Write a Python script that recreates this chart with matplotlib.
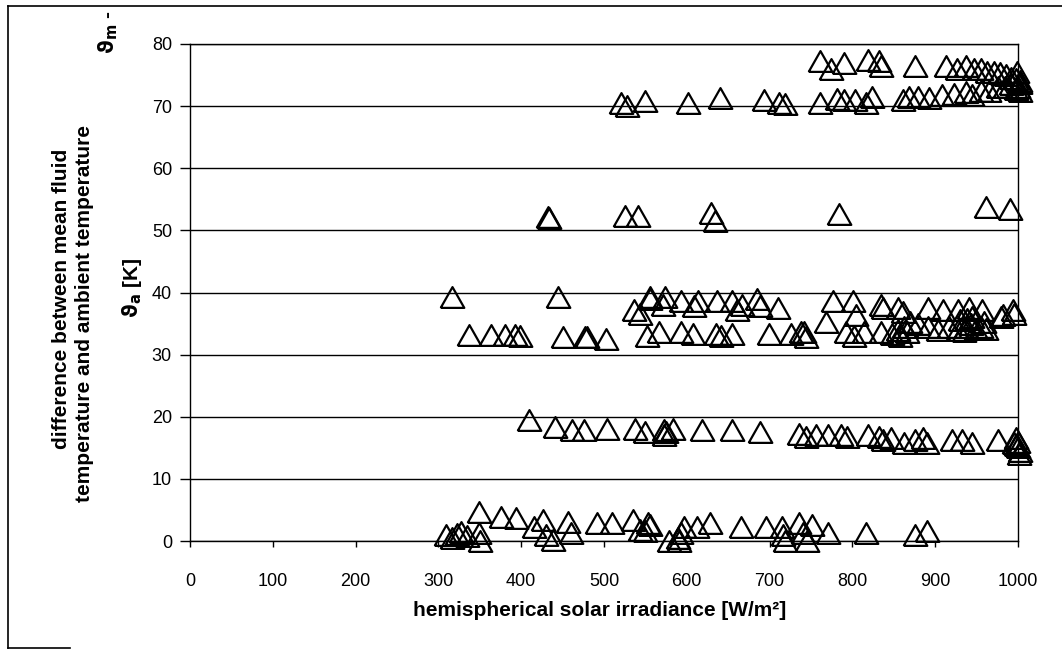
import matplotlib
matplotlib.use("Agg")
import numpy as np
import matplotlib.pyplot as plt
from matplotlib.lines import Line2D

plt.rcParams['font.family'] = ['Liberation Sans', 'DejaVu Sans']
plt.rcParams['mathtext.fontset'] = 'dejavusans'

# measured points, grouped by the temperature level they sit at
# level ~0 K
irr_0 = [309, 317, 322, 327, 334, 349, 349, 350, 376, 394, 416, 426, 430, 438, 456, 460,
         492, 510, 535, 543, 549, 553, 555, 579, 589, 591, 593, 597, 612, 628, 666, 696,
         715, 716, 718, 736, 740, 745, 751, 770, 817, 875, 890]
dt_0 = [1.0, 0.5, 1.2, 1.5, 0.8, 4.7, 1.3, 0.0, 3.9, 3.7, 2.3, 3.4, 1.0, 0.2, 3.0, 1.3,
        2.9, 2.9, 3.4, 1.8, 1.6, 2.9, 2.5, 0.0, 0.5, 0.0, 1.3, 2.3, 2.3, 2.9, 2.3, 2.3,
        2.3, 0.9, 0.0, 2.9, 1.3, 0.0, 2.6, 1.3, 1.3, 1.0, 1.6]

# level ~17 K
irr_17 = [409, 441, 461, 476, 504, 537, 550, 572, 572, 575, 583, 618, 655, 688, 736, 744,
          756, 771, 786, 794, 819, 832, 837, 847, 862, 875, 885, 890, 920, 932, 945, 976,
          995, 997, 998, 1000, 1000, 1001, 1003]
dt_17 = [19.5, 18.3, 17.8, 17.8, 18.0, 18.0, 17.5, 17.8, 17.0, 17.5, 18.0, 17.8, 17.8, 17.5, 17.3, 16.8,
         17.0, 17.0, 17.0, 16.8, 17.0, 16.8, 16.3, 16.5, 15.8, 16.3, 16.5, 15.8, 16.2, 16.3, 15.8, 16.3,
         15.8, 15.5, 16.5, 15.2, 16.0, 14.0, 14.5]

# level ~33 K
irr_33 = [337, 363, 381, 393, 399, 450, 477, 480, 503, 552, 566, 593, 607, 635, 641, 655,
          699, 726, 738, 742, 744, 792, 802, 814, 834, 848, 855, 858, 862, 866, 870, 879,
          891, 903, 917, 927, 930, 935, 937, 943, 945, 949, 955, 961, 979, 995]
dt_33 = [33.2, 33.2, 33.2, 33.2, 33.0, 32.8, 32.8, 32.8, 32.5, 33.0, 33.6, 33.6, 33.3, 33.3, 33.0, 33.3,
         33.3, 33.3, 33.6, 33.6, 32.8, 33.6, 33.0, 33.6, 33.6, 33.3, 34.0, 33.0, 34.5, 33.6, 35.3, 35.0,
         34.5, 34.0, 34.5, 34.0, 35.5, 33.8, 34.5, 35.0, 36.0, 34.2, 34.5, 34.2, 36.0, 36.5]

# level ~38 K
irr_38 = [316, 445, 536, 544, 555, 556, 571, 574, 593, 609, 613, 637, 655, 661, 667, 685,
          689, 710, 768, 776, 801, 804, 834, 837, 855, 861, 891, 909, 927, 939, 941, 957,
          959, 982, 994]
dt_38 = [39.2, 39.3, 37.2, 36.5, 39.3, 39.0, 38.0, 39.2, 38.6, 37.8, 38.6, 38.6, 38.6, 37.2, 38.0, 38.9,
         37.8, 37.5, 35.3, 38.6, 38.6, 36.4, 38.0, 37.5, 37.5, 36.9, 37.5, 37.2, 37.2, 35.8, 37.5, 37.2,
         35.3, 36.4, 37.2]

# level ~52 K
irr_52 = [432, 434, 525, 541, 629, 634, 784, 961, 990]
dt_52 = [52.2, 52.0, 52.3, 52.3, 52.8, 51.5, 52.6, 53.8, 53.4]

# level ~71 K
irr_71 = [520, 528, 549, 601, 640, 693, 711, 719, 761, 782, 790, 803, 816, 824, 861, 868,
          879, 892, 908, 923, 937, 944, 955, 965, 976, 984, 992, 997, 1000, 1002, 1003]
dt_71 = [70.5, 70.0, 70.8, 70.5, 71.3, 71.0, 70.5, 70.3, 70.5, 71.2, 71.0, 71.0, 70.5, 71.5, 71.0, 71.5,
         71.5, 71.3, 71.8, 72.0, 72.3, 71.8, 72.5, 72.5, 73.0, 73.0, 73.5, 72.8, 73.0, 74.0, 72.5]

# level ~76 K
irr_76 = [761, 774, 790, 819, 832, 835, 876, 913, 926, 937, 947, 955, 963, 971, 978, 986,
          992, 997, 999, 1002]
dt_76 = [77.3, 76.0, 77.0, 77.5, 77.3, 76.5, 76.5, 76.5, 76.0, 76.5, 76.0, 76.0, 75.5, 75.5, 75.3, 75.0,
         74.5, 74.3, 75.5, 73.8]

x_ticks = [0, 100, 200, 300, 400, 500, 600, 700, 800, 900, 1000]
y_ticks = [0, 10, 20, 30, 40, 50, 60, 70, 80]

W, H = 1062, 663
fig = plt.figure(figsize=(W / 100, H / 100), dpi=100)
ax = fig.add_axes([190 / W, 1 - 541 / H, (1018 - 190) / W, (541 - 44) / H])

# flat open triangle like the spreadsheet marker
tri = [(-1, -0.88), (1, -0.88), (0, 0.88), (-1, -0.88)]
groups = [(irr_0, dt_0), (irr_17, dt_17), (irr_33, dt_33), (irr_38, dt_38),
          (irr_52, dt_52), (irr_71, dt_71), (irr_76, dt_76)]
for xs, ys in groups:
    ax.plot(xs, ys, linestyle='none', marker=tri, markersize=17,
            markerfacecolor='none', markeredgecolor='black', markeredgewidth=1.6,
            clip_on=False, zorder=3)

ax.set_xlim(0, 1000)
ax.set_ylim(0, 80)
ax.set_xticks(x_ticks)
ax.set_yticks(y_ticks)
ax.grid(axis='y', color='black', linewidth=1.0)
ax.set_axisbelow(True)
for s in ax.spines.values():
    s.set_linewidth(1.0)
    s.set_color('black')
ax.tick_params(axis='x', direction='out', length=4, width=1, pad=19, labelsize=13)
ax.tick_params(axis='y', direction='out', length=7, width=1, pad=6, labelsize=13)

fig.text(600 / W, 1 - 610 / H, 'hemispherical solar irradiance [W/m²]',
         ha='center', va='center', fontsize=15, fontweight='bold')

ylab = dict(rotation=90, ha='center', va='center', fontsize=15, fontweight='bold')
fig.text(62 / W, 1 - 299 / H, 'difference between mean fluid', **ylab)
fig.text(85 / W, 1 - 313 / H, 'temperature and ambient temperature', **ylab)
fig.text(108 / W, 1 - 32 / H, r'$\mathbf{\vartheta}_{\mathbf{m}}$ -', **ylab)
fig.text(132 / W, 1 - 288 / H, r'$\mathbf{\vartheta}_{\mathbf{a}}$ [K]', **ylab)

# outer chart frame (partly visible in the scan)
for xs, ys in [([8, 8], [6, 648]), ([8, W], [6, 6]), ([8, 70], [648, 648])]:
    fig.add_artist(Line2D([v / W for v in xs], [1 - v / H for v in ys],
                          transform=fig.transFigure, color='black', linewidth=1.2))

fig.savefig('out.png', dpi=100)
